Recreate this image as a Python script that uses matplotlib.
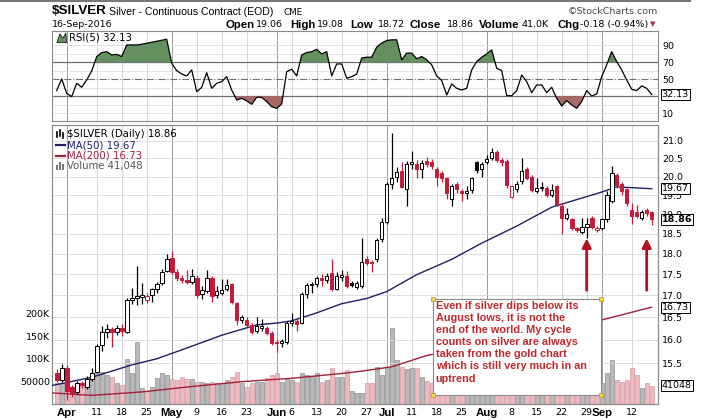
import matplotlib
matplotlib.use('Agg')
import matplotlib.pyplot as plt
import matplotlib.transforms as mtransforms
from matplotlib.patches import Rectangle, Polygon
from matplotlib.lines import Line2D
from matplotlib.ticker import NullLocator, NullFormatter
import numpy as np
import pandas as pd

# trading calendar (holidays removed)
holidays = ['2016-05-30', '2016-07-04', '2016-09-05']
days = pd.bdate_range('2016-03-30', '2016-09-16')
days = days[~days.isin(pd.to_datetime(holidays))]

opens = [15.30, 15.15, 15.40, 15.00, 14.89, 15.08, 15.00, 15.16, 15.31, 15.88,
         16.18, 16.24, 16.17, 16.26, 16.17, 16.90, 16.95, 16.96, 16.90, 17.00,
         17.14, 17.29, 17.58, 17.90, 17.56, 17.42, 17.37, 17.32, 17.42, 17.03,
         17.10, 17.42, 17.00, 17.06, 17.14, 17.26, 16.82, 16.43, 16.45, 16.33,
         16.20, 16.25, 16.25, 16.16, 15.96, 15.93, 15.95, 16.38, 16.42, 16.37,
         17.04, 17.24, 17.27, 17.42, 17.36, 17.52, 17.16, 17.43, 17.47, 17.30,
         17.20, 17.22, 17.86, 17.80, 17.86, 18.36, 18.79, 19.80, 19.99, 20.16,
         19.66, 20.35, 20.35, 20.20, 20.42, 20.40, 20.20, 20.10, 19.96, 19.40,
         19.80, 19.60, 19.55, 19.63, 20.40, 20.20, 20.40, 20.50, 20.67, 20.45,
         20.43, 19.45, 19.65, 19.87, 20.20, 19.99, 19.60, 19.68, 19.68, 19.50,
         19.75, 19.20, 18.90, 18.86, 18.63, 18.54, 18.68, 18.90, 18.58, 18.63,
         18.86, 19.35, 20.05, 19.80, 19.66, 19.10, 19.06, 18.90, 19.10, 19.06]
highs = [15.38, 15.48, 15.45, 15.05, 15.13, 15.12, 15.22, 15.40, 15.90, 16.30,
         16.35, 16.28, 16.33, 16.34, 16.95, 17.18, 17.69, 17.30, 17.05, 17.18,
         17.32, 17.62, 17.98, 18.07, 17.62, 17.48, 17.60, 17.62, 17.48, 17.22,
         17.60, 17.46, 17.22, 17.38, 17.38, 17.30, 16.85, 16.55, 16.50, 16.38,
         16.50, 16.47, 16.30, 16.20, 16.00, 16.02, 16.42, 16.60, 16.48, 17.08,
         17.30, 17.32, 17.45, 17.50, 17.52, 17.86, 17.55, 17.60, 17.58, 17.35,
         17.35, 18.40, 17.95, 17.84, 18.40, 18.90, 19.85, 21.23, 20.25, 20.40,
         20.42, 20.70, 20.45, 20.45, 20.55, 20.48, 20.25, 20.15, 20.00, 19.80,
         19.85, 19.65, 19.75, 20.00, 20.42, 20.40, 20.60, 20.80, 20.75, 20.50,
         20.48, 19.78, 19.88, 20.52, 20.25, 20.05, 19.95, 19.85, 19.75, 19.80,
         19.78, 19.30, 19.15, 18.90, 18.68, 18.90, 18.90, 18.95, 18.70, 18.90,
         19.60, 20.30, 20.10, 19.85, 19.70, 19.28, 19.25, 19.10, 19.15, 19.08]
lows = [15.10, 15.10, 14.73, 14.80, 14.85, 14.98, 14.96, 15.12, 15.28, 15.75,
        16.05, 15.84, 16.10, 16.08, 16.15, 16.80, 16.78, 16.80, 16.82, 16.85,
        17.05, 17.25, 17.55, 17.50, 17.35, 17.30, 17.28, 17.28, 16.93, 16.92,
        17.05, 16.85, 16.95, 17.00, 17.10, 16.80, 16.32, 16.38, 16.28, 16.12,
        16.15, 16.20, 16.10, 15.88, 15.74, 15.85, 15.90, 16.30, 16.20, 16.35,
        16.95, 17.05, 17.20, 17.22, 17.30, 17.10, 17.12, 17.35, 17.18, 17.20,
        17.15, 17.18, 17.72, 17.55, 17.80, 18.30, 18.75, 19.66, 19.85, 19.70,
        19.20, 20.20, 19.95, 19.95, 20.25, 20.20, 19.75, 19.85, 19.40, 19.20,
        19.55, 19.35, 19.40, 19.55, 20.10, 20.00, 20.35, 20.45, 20.40, 20.30,
        19.70, 19.42, 19.58, 19.80, 19.90, 19.58, 19.55, 19.62, 19.45, 19.45,
        19.20, 18.50, 18.85, 18.60, 18.55, 18.50, 18.40, 18.62, 18.55, 18.58,
        18.80, 19.30, 19.70, 19.50, 19.20, 18.75, 18.90, 18.85, 18.95, 18.72]
closes = [15.15, 15.40, 14.92, 14.87, 15.08, 15.04, 15.16, 15.30, 15.86, 16.17,
          16.24, 16.18, 16.26, 16.19, 16.89, 16.95, 16.98, 17.02, 16.98, 17.14,
          17.27, 17.56, 17.87, 17.56, 17.42, 17.36, 17.32, 17.47, 17.00, 17.12,
          17.42, 16.98, 17.10, 17.13, 17.24, 16.86, 16.43, 16.50, 16.33, 16.17,
          16.30, 16.31, 16.15, 15.93, 15.92, 15.97, 16.38, 16.42, 16.34, 17.04,
          17.24, 17.27, 17.40, 17.36, 17.46, 17.16, 17.47, 17.48, 17.23, 17.25,
          17.29, 17.79, 17.78, 17.76, 18.35, 18.79, 19.80, 19.95, 20.13, 19.72,
          20.35, 20.40, 20.20, 20.38, 20.35, 20.30, 20.00, 19.96, 19.55, 19.75,
          19.65, 19.55, 19.60, 19.96, 20.17, 20.35, 20.48, 20.67, 20.45, 20.40,
          19.76, 19.74, 19.80, 20.14, 19.95, 19.63, 19.70, 19.72, 19.50, 19.63,
          19.26, 18.90, 18.99, 18.63, 18.58, 18.68, 18.75, 18.67, 18.64, 18.86,
          19.50, 20.10, 19.76, 19.60, 19.29, 18.95, 18.94, 19.05, 19.04, 18.86]
volumes = [46000, 46000, 50000, 39000, 39000, 42000, 54000, 61000, 69000, 72000,
           65000, 61000, 46000, 42000, 100000, 69000, 137000, 36000, 30000, 39000,
           57000, 69000, 65000, 55000, 53000, 60000, 55000, 55000, 50000, 50000,
           48000, 50000, 46000, 46000, 54000, 61000, 72000, 46000, 39000, 46000,
           50000, 50000, 57000, 65000, 69000, 50000, 57000, 53000, 50000, 69000,
           65000, 61000, 69000, 50000, 54000, 80000, 61000, 61000, 76000, 30000,
           24000, 26000, 46000, 48000, 83000, 65000, 83000, 168000, 98000, 83000,
           77000, 80000, 80000, 61000, 52000, 48000, 55000, 45000, 62000, 50000,
           42000, 38000, 40000, 52000, 58000, 45000, 47000, 55000, 50000, 41000,
           66000, 52000, 40000, 48000, 45000, 50000, 38000, 35000, 42000, 40000,
           55000, 60000, 42000, 48000, 40000, 45000, 43000, 50000, 30000, 46000,
           69000, 98000, 54000, 50000, 54000, 80000, 65000, 37000, 46000, 41048]
rsi5 = [36.7, 50.4, 33.5, 29.6, 45.3, 40.6, 49.2, 59.8, 76.7, 81.4,
        82.5, 78.6, 79.4, 76.7, 90.4, 90.4, 90.4, 91.2, 92.4, 93.6,
        94.7, 95.9, 97.1, 68.8, 60.2, 56.3, 53.9, 61.0, 35.4, 40.5,
        57.8, 39.4, 45.3, 47.2, 53.1, 37.4, 25.6, 27.6, 24.5, 20.6,
        28.8, 28.8, 23.7, 17.8, 15.8, 21.0, 59.0, 61.8, 53.9, 78.6,
        81.4, 82.5, 85.3, 79.8, 82.5, 53.9, 68.0, 68.0, 51.2, 53.1,
        56.0, 75.0, 76.0, 76.0, 87.8, 92.5, 95.6, 96.4, 96.4, 72.9,
        80.8, 80.8, 74.1, 76.8, 72.9, 67.0, 54.0, 48.5, 31.6, 44.5,
        39.4, 37.4, 39.4, 61.0, 70.8, 76.0, 79.8, 84.6, 63.0, 60.2,
        30.8, 30.8, 36.7, 55.1, 47.2, 34.3, 43.3, 43.3, 34.3, 40.6,
        27.6, 18.6, 24.9, 19.8, 15.9, 23.7, 36.7, 30.4, 32.7, 53.1,
        67.0, 82.5, 70.8, 61.0, 49.2, 38.2, 36.7, 42.2, 39.4, 32.13]

# moving averages (trading-day index, value)
ma50_days = [-1, 7, 15, 20, 26, 33, 40, 44, 47, 52, 57, 62, 66, 72, 79, 85, 92, 99, 105, 109, 112, 119]
ma50_vals = [15.03, 15.20, 15.46, 15.59, 15.82, 16.10, 16.33, 16.37, 16.42, 16.60, 16.81,
             16.93, 17.09, 17.49, 17.86, 18.26, 18.69, 19.18, 19.42, 19.58, 19.72, 19.67]
ma200_days = [-1, 7, 17, 27, 37, 47, 57, 61, 67, 74, 109, 119]
ma200_vals = [14.88, 14.83, 14.90, 15.01, 15.11, 15.18, 15.28, 15.33, 15.42, 15.66, 16.44, 16.73]

tick_dates = ['2016-04-01', '2016-04-11', '2016-04-18', '2016-04-25', '2016-05-02', '2016-05-09',
              '2016-05-16', '2016-05-23', '2016-06-01', '2016-06-06', '2016-06-13', '2016-06-20',
              '2016-06-27', '2016-07-01', '2016-07-11', '2016-07-18', '2016-07-25', '2016-08-01',
              '2016-08-08', '2016-08-15', '2016-08-22', '2016-08-29', '2016-09-01', '2016-09-12']
tick_labels = ['Apr', '11', '18', '25', 'May', '9', '16', '23', 'Jun', '6', '13', '20', '27',
               'Jul', '11', '18', '25', 'Aug', '8', '15', '22', '29', 'Sep', '12']
month_labels = ['Apr', 'May', 'Jun', 'Jul', 'Aug', 'Sep']

price_ticks = [15.5, 16.0, 16.5, 17.0, 17.5, 18.0, 18.5, 19.0, 19.5, 20.0, 20.5, 21.0]
vol_ticks = [50000, 100000, 150000, 200000]
vol_tick_labels = ['50000', '100K', '150K', '200K']

quote = [('Open', '19.06'), ('High', '19.08'), ('Low', '18.72'), ('Close', '18.86'),
         ('Volume', '41.0K'), ('Chg', '-0.18 (-0.94%)')]

note = ("Even if silver dips below its\nAugust lows, it is not the\nend of the world. My cycle\n"
        "counts on silver are always\ntaken from the gold chart\nwhich is still very much in an\nuptrend")
arrow_days = ['2016-08-29', '2016-09-15']

RED = '#c41a3c'
SANS = 'Liberation Sans'
TAH = 'DejaVu Sans'
W, H = 704, 420


def frac(x0, y0, x1, y1):
    return [x0 / W, 1 - y1 / H, (x1 - x0) / W, (y1 - y0) / H]


def ftext(x, y, s, **kw):
    fig.text(x / W, 1 - y / H, s, va='center', **kw)


n = len(closes)
xs = np.arange(n)
tick_pos = days.get_indexer(pd.to_datetime(tick_dates))
xlim = (-0.94, 120.26)

fig = plt.figure(figsize=(7.04, 4.20), dpi=100)
ax_r = fig.add_axes(frac(52, 31, 658, 121))
ax_v = fig.add_axes(frac(52, 125, 658, 404.3))
ax_p = ax_v.twinx()

for a in (ax_r, ax_v, ax_p):
    for sp in a.spines.values():
        sp.set_color('#8a8a8a')
        sp.set_linewidth(0.8)

# vertical grid
for pos, lab in zip(tick_pos, tick_labels):
    c = '#9a9a9a' if lab in month_labels else '#d6d6d6'
    ax_v.axvline(pos, color=c, lw=0.7, zorder=0)
    ax_r.axvline(pos, color=c, lw=0.7, zorder=0)

# ---- RSI panel
ax_r.set_xlim(*xlim)
ax_r.set_ylim(0.94, 106.8)
for lv in [10, 20, 40, 60, 80, 90]:
    ax_r.axhline(lv, color='#dedede', lw=0.6, zorder=0)
ax_r.axhline(70, color='#707070', lw=0.9, zorder=1)
ax_r.axhline(30, color='#707070', lw=0.9, zorder=1)
ax_r.axhline(50, color='#707070', lw=0.8, ls='-.', zorder=1)
rsi = np.array(rsi5)
ax_r.fill_between(xs, rsi, 70, where=rsi > 70, interpolate=True, color='#64905f', lw=0, zorder=2)
ax_r.fill_between(xs, rsi, 30, where=rsi < 30, interpolate=True, color='#a86868', lw=0, zorder=2)
ax_r.plot(xs, rsi, color='black', lw=0.9, zorder=3)
ax_r.set_xticks([])
ax_r.yaxis.tick_right()
ax_r.set_yticks([10, 50, 70, 90])
ax_r.tick_params(axis='y', length=0, pad=3, labelsize=6.8)
ax_r.text(0.028, 0.925, 'RSI(5) %.2f' % rsi5[-1], transform=ax_r.transAxes, fontsize=7.3,
          family=TAH, va='center', ha='left')
ax_r.add_patch(Polygon([[0.008, 0.87], [0.013, 0.97], [0.018, 0.92], [0.023, 0.98], [0.024, 0.87]],
                       closed=True, transform=ax_r.transAxes, fc='#64905f', ec='black', lw=0.5))
tr_r = mtransforms.blended_transform_factory(ax_r.transAxes, ax_r.transData)
ax_r.text(1.006, rsi5[-1], '%.2f' % rsi5[-1], transform=tr_r, fontsize=6.8, family=TAH,
          va='center', ha='left', clip_on=False, zorder=10,
          bbox=dict(boxstyle='square,pad=0.12', fc='white', ec='black', lw=0.7))

# ---- volume
vcol, vedge = [], []
for i in range(n):
    up = closes[i] >= (closes[i - 1] if i else opens[i])
    vcol.append('#b9b9b9' if up else '#f0b9bf')
    vedge.append('#8f8f8f' if up else '#d59aa2')
ax_v.bar(xs, volumes, width=0.8, color=vcol, edgecolor=vedge, lw=0.5, zorder=1)
ax_v.set_xlim(*xlim)
ax_v.set_ylim(0, 616000)
ax_v.set_yticks(vol_ticks)
ax_v.set_yticklabels(vol_tick_labels)
ax_v.tick_params(axis='y', length=0, pad=1.5, labelsize=6.8)
ax_v.set_xticks(tick_pos)
ax_v.set_xticklabels(tick_labels)
ax_v.tick_params(axis='x', length=0, pad=2.5)
for t in ax_v.get_xticklabels():
    if t.get_text() in month_labels:
        t.set_fontweight('bold')
        t.set_family(SANS)
        t.set_fontsize(8.2)
    else:
        t.set_family(TAH)
        t.set_fontsize(6.8)

# ---- price
ax_p.set_yscale('log')
ax_p.set_ylim(14.65, 21.46)
ax_p.set_xlim(*xlim)
ax_p.yaxis.set_minor_locator(NullLocator())
ax_p.yaxis.set_minor_formatter(NullFormatter())
ax_p.set_yticks(price_ticks)
ax_p.set_yticklabels(['%.1f' % p for p in price_ticks])
ax_p.tick_params(axis='y', length=0, pad=3, labelsize=6.8)
ax_p.set_axisbelow(True)
ax_p.grid(axis='y', color='#d9d9d9', lw=0.6)

ax_p.plot(ma200_days, ma200_vals, color='#a3203a', lw=1.0, zorder=3)
ax_p.plot(ma50_days, ma50_vals, color='#1f1f66', lw=1.0, zorder=3)

for i in range(n):
    o, h, l, c = opens[i], highs[i], lows[i], closes[i]
    prev = closes[i - 1] if i else o
    col = 'black' if c >= prev else RED
    ax_p.vlines(i, l, h, color=col, lw=0.9, zorder=4)
    lo, hi = min(o, c), max(o, c)
    if hi - lo < 0.02:
        hi = lo + 0.02
    ax_p.add_patch(Rectangle((i - 0.36, lo), 0.72, hi - lo, fc=col if c < o else 'white',
                             ec=col, lw=0.7, zorder=5))

# annotation box
bx0, bx1 = 75.2, 108.8
by0, by1 = 14.84, 16.91
ax_p.add_patch(Rectangle((bx0, by0), bx1 - bx0, by1 - by0, fc='white', ec='#8a8a8a', lw=0.8, zorder=6))
ax_p.plot([bx0, bx1, bx0, bx1], [by0, by0, by1, by1], 's', ms=3.5, mfc='#f2d64b', mec='#c0a020',
          mew=0.6, zorder=7)
ax_p.text(75.8, 16.87, note, fontsize=7.8, fontweight='bold', family=SANS, color='#c0282d',
          va='top', ha='left', linespacing=1.26, zorder=8)

for d in arrow_days:
    i = days.get_loc(pd.Timestamp(d))
    ax_p.annotate('', xy=(i, 18.38), xytext=(i, 17.12),
                  arrowprops=dict(arrowstyle='-|>', color='#b01020', lw=2.0, mutation_scale=13,
                                  shrinkA=0, shrinkB=0), zorder=8)

# right tags
tr_p = mtransforms.blended_transform_factory(ax_p.transAxes, ax_p.transData)
tag = dict(fontsize=6.8, family=TAH, va='center', ha='left', clip_on=False, zorder=10)
bb = dict(boxstyle='square,pad=0.12', fc='white', ec='black', lw=0.7)
ax_p.text(1.006, ma50_vals[-1], '%.2f' % ma50_vals[-1], transform=tr_p, bbox=bb, **tag)
ax_p.text(1.006, closes[-1], '%.2f' % closes[-1], transform=tr_p, bbox=bb, fontweight='bold', **tag)
ax_p.text(1.006, ma200_vals[-1], '%.2f' % ma200_vals[-1], transform=tr_p, bbox=bb, **tag)
tr_v = mtransforms.blended_transform_factory(ax_v.transAxes, ax_v.transData)
ax_v.text(1.006, volumes[-1], '%d' % volumes[-1], transform=tr_v, bbox=bb, **tag)

# legend
leg_y = [134, 145, 155.7, 166]
ftext(67, leg_y[0], '$SILVER (Daily) %.2f' % closes[-1], fontsize=7.3, family=TAH)
ftext(67, leg_y[1], 'MA(50) %.2f' % ma50_vals[-1], fontsize=7.3, family=TAH, color='#1f1f66')
ftext(67, leg_y[2], 'MA(200) %.2f' % ma200_vals[-1], fontsize=7.3, family=TAH, color='#a3203a')
ftext(67, leg_y[3], 'Volume {:,}'.format(volumes[-1]), fontsize=7.3, family=TAH, color='#555555')
fig.add_artist(Line2D([56 / W, 65 / W], [1 - leg_y[1] / H] * 2, color='#1f1f66', lw=1.6))
fig.add_artist(Line2D([56 / W, 65 / W], [1 - leg_y[2] / H] * 2, color='#a3203a', lw=1.6))
for k, hgt in enumerate([5, 8, 6]):
    fig.add_artist(Rectangle(((56 + 3 * k) / W, 1 - (leg_y[3] + 4) / H), 2 / W, hgt / H,
                             fc='#777777', ec='none'))
for k, (a, b) in enumerate([(3, 8), (1, 7), (4, 9)]):
    fig.add_artist(Line2D([(57 + 3 * k) / W] * 2, [1 - (leg_y[0] - 5 + a) / H, 1 - (leg_y[0] - 5 + b) / H],
                          color='black', lw=1.2))

# header
fig.add_artist(Line2D([0, 0.98], [0.998, 0.998], color='#777777', lw=1.5))
ftext(52, 11.5, '$SILVER', fontsize=9.6, fontweight='bold', family=SANS)
ftext(109, 12, 'Silver - Continuous Contract (EOD)', fontsize=7.6, family=SANS)
ftext(284, 12.5, 'CME', fontsize=6.3, family=TAH)
ftext(658, 12, '\u00a9StockCharts.com', fontsize=6.8, family=TAH, color='#444444', ha='right')
ftext(52, 24.5, '16-Sep-2016', fontsize=6.8, family=TAH)
qx = [(225, 256), (290, 317), (350, 378), (410, 447), (479, 522), (558, 580)]
for (k, v), (kx, vx) in zip(quote, qx):
    ftext(kx, 24.5, k, fontsize=8.2, fontweight='bold', family=SANS)
    ftext(vx, 24.5, v, fontsize=6.8, family=TAH)
ftext(650, 24.5, '\u25bc', fontsize=5, family=TAH, color='#a03050')

fig.savefig('out.png', dpi=100)
